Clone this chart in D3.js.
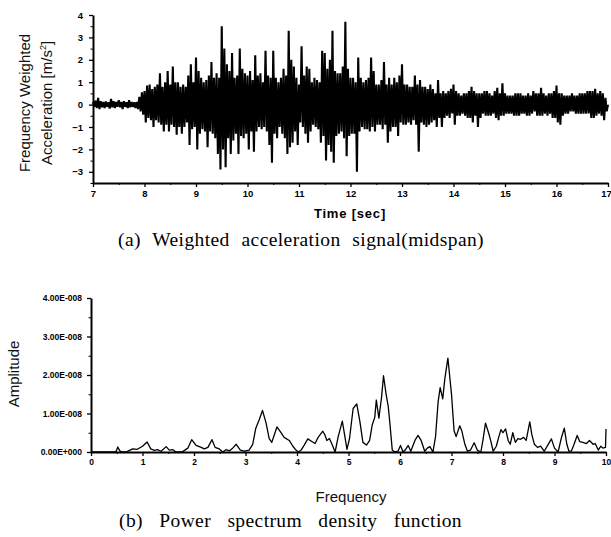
<!DOCTYPE html>
<html><head><meta charset="utf-8">
<script src="https://cdn.jsdelivr.net/npm/d3@7"></script>
<style>body{margin:0;background:#fff}svg{display:block}</style></head>
<body><svg id="c" width="611" height="537"></svg>
<script>
// ---- (a) weighted acceleration: per-bin peaks (bin = 0.05 s starting at 7 s)
const accStart = 7, accStep = 0.05;
const accUpper = [
 0.12,0.18,0.3,0.15,0.12,0.14,0.1,0.25,0.15,0.12, 0.2,0.12,0.15,0.1,0.2,0.12,0.1,0.12,0.35,0.55,
 0.6,0.85,0.9,0.7,0.8,0.9,1.4,0.8,1.0,1.5, 0.9,1.7,1.0,1.0,0.8,0.9,0.8,1.3,1.8,1.0,
 2.1,1.5,1.2,1.0,1.1,1.3,1.9,1.2,1.4,1.2, 3.5,2.5,1.8,1.5,2.3,1.2,1.3,2.5,1.6,1.4,
 1.3,1.5,1.1,2.2,1.3,1.4,1.0,2.4,1.3,1.2, 2.4,1.2,1.0,1.2,1.6,1.3,3.3,2.0,1.7,1.2,
 0.9,2.6,1.3,1.7,1.6,1.0,1.2,1.1,1.0,2.4, 2.3,1.6,2.0,3.3,1.5,1.4,1.4,1.7,3.7,1.6,
 1.2,1.2,1.0,2.1,1.2,1.0,1.1,1.2,2.1,1.5, 0.9,0.9,1.1,1.9,0.9,1.2,0.9,1.2,1.0,1.3,
 1.8,0.9,0.9,0.8,0.8,1.3,0.9,1.1,0.8,0.8, 0.7,0.9,0.7,0.5,1.1,0.5,0.6,0.5,0.6,0.7,
 0.9,0.6,0.5,0.4,0.5,0.5,0.6,0.8,0.6,0.5, 0.5,0.5,0.6,0.6,0.5,0.4,0.6,0.75,0.5,0.95,
 0.5,0.4,0.4,0.4,0.5,0.5,0.5,0.4,0.4,0.5, 0.4,0.6,0.5,0.5,0.75,0.5,0.4,0.5,0.5,0.6,
 0.85,0.5,0.5,0.4,0.4,0.4,0.5,0.4,0.4,0.5, 0.5,0.5,0.6,0.6,0.6,0.7,0.5,0.6,0.5,0.3
];
const accLower = [
 -0.1,-0.15,-0.2,-0.12,-0.15,-0.1,-0.18,-0.12,-0.15,-0.1, -0.12,-0.2,-0.1,-0.15,-0.12,-0.1,-0.15,-0.2,-0.3,-0.45,
 -0.8,-0.6,-0.7,-1.0,-0.7,-0.8,-0.9,-1.2,-0.9,-1.2, -0.9,-1.0,-1.35,-1.0,-1.3,-1.0,-0.8,-1.8,-1.1,-1.0,
 -2.0,-1.3,-1.1,-1.2,-1.9,-1.2,-1.3,-1.5,-2.2,-2.9, -2.0,-2.8,-1.5,-2.2,-1.6,-1.3,-2.2,-1.4,-1.5,-1.3,
 -2.0,-1.2,-2.1,-1.2,-1.0,-1.1,-1.0,-1.2,-1.8,-2.6, -1.3,-1.5,-1.0,-1.3,-1.5,-2.2,-1.9,-1.7,-1.2,-1.8,
 -0.8,-1.0,-1.3,-1.7,-1.2,-0.9,-1.0,-1.1,-1.7,-1.4, -2.5,-1.8,-2.1,-2.6,-1.4,-1.3,-1.2,-1.5,-2.3,-1.4,
 -1.3,-1.3,-3.0,-1.2,-1.0,-1.1,-1.1,-1.2,-1.0,-1.2, -0.9,-0.9,-1.1,-0.9,-1.7,-1.2,-1.0,-1.0,-1.4,-0.8,
 -0.9,-0.9,-0.8,-0.9,-0.7,-0.9,-2.1,-0.8,-0.9,-1.0, -0.9,-0.8,-0.7,-1.0,-0.6,-1.0,-0.6,-0.5,-0.6,-0.4,
 -0.9,-0.5,-0.5,-0.4,-0.5,-0.6,-0.6,-0.8,-0.5,-1.0, -0.6,-0.4,-0.5,-0.5,-0.5,-0.4,-0.6,-0.7,-0.5,-0.5,
 -0.4,-0.4,-0.4,-0.5,-0.5,-0.5,-0.4,-0.4,-0.5,-0.5, -0.4,-0.3,-0.5,-0.5,-0.5,-0.4,-0.5,-0.4,-0.6,-0.6,
 -0.8,-0.9,-0.5,-0.4,-0.4,-0.3,-0.3,-0.4,-0.4,-0.4, -0.4,-0.4,-0.4,-0.6,-0.6,-0.5,-0.4,-0.5,-0.7,-0.3
];
const timeTicks = [7,8,9,10,11,12,13,14,15,16,17];
const accTicks = [-3,-2,-1,0,1,2,3,4];

// ---- (b) power spectrum density (amplitude in units of 1e-8)
const psdFreq = [0,0.45,0.49,0.52,0.56,0.6,0.7,0.81,0.9,1.0,1.09,1.16,1.23,1.29,1.36,1.46,1.52,1.59,1.65,1.78,1.88,1.955,2.04,2.14,2.2,2.27,2.35,2.41,2.49,2.56,2.62,2.69,2.75,2.82,2.9,2.98,3.07,3.14,3.2,3.27,3.33,3.4,3.46,3.51,3.56,3.61,3.68,3.75,3.85,3.92,3.98,4.03,4.08,4.14,4.21,4.28,4.35,4.41,4.5,4.54,4.58,4.63,4.68,4.74,4.8,4.88,4.93,4.97,5.02,5.09,5.16,5.22,5.28,5.35,5.41,5.46,5.51,5.54,5.59,5.64,5.68,5.73,5.77,5.8,5.85,5.9,5.96,6.01,6.06,6.1,6.16,6.21,6.29,6.35,6.41,6.48,6.53,6.58,6.64,6.69,6.74,6.78,6.83,6.87,6.93,7.0,7.05,7.09,7.16,7.2,7.26,7.31,7.37,7.44,7.5,7.57,7.61,7.66,7.72,7.76,7.81,7.87,7.92,7.96,8.0,8.05,8.1,8.14,8.19,8.24,8.29,8.34,8.4,8.45,8.52,8.56,8.61,8.67,8.73,8.8,8.87,8.94,9.0,9.07,9.13,9.19,9.24,9.28,9.33,9.38,9.44,9.49,9.55,9.62,9.68,9.75,9.79,9.85,9.9,9.94,9.99,10.0];
const psdAmp = [0,0,0.02,0.13,0.03,0,0.01,0.08,0.07,0.15,0.26,0.08,0.04,0.06,0.02,0.14,0.05,0.06,0,0.01,0.1,0.32,0.17,0.12,0.08,0.12,0.32,0.12,0.08,0,0.06,0.03,0.1,0.2,0.05,0.02,0.05,0.2,0.62,0.85,1.08,0.75,0.35,0.25,0.45,0.65,0.52,0.38,0.3,0.15,0.05,0,0.05,0.18,0.34,0.28,0.22,0.38,0.54,0.45,0.3,0.35,0.2,0,0.4,0.8,0.4,0.07,0.35,1.13,1.25,0.8,0.25,0.18,0.3,0.7,0.9,1.35,0.88,1.4,1.98,1.5,1.2,0.8,0.05,0,0.02,0.17,0,0.05,0.17,0.02,0.3,0.43,0.3,0.02,0.1,0.14,0,0.4,1.3,1.67,1.38,1.9,2.44,1.5,0.55,0.4,0.68,0.55,0.2,0.02,0.05,0.24,0.05,0,0.3,0.75,0.5,0.3,0.02,0.15,0.4,0.58,0.5,0.6,0.3,0.2,0.5,0.25,0.35,0.33,0.38,0.3,0.78,0.45,0.2,0.12,0.15,0.02,0.18,0.34,0.1,0,0.35,0.62,0.2,0.02,0.03,0.2,0.43,0.27,0.25,0.22,0.3,0.2,0.22,0.05,0.15,0.1,0.12,0.6];
const freqTicks = [0,1,2,3,4,5,6,7,8,9,10];
const ampTicks = [0,1,2,3,4];
const ampTickLabels = ["0.00E+000","1.00E-008","2.00E-008","3.00E-008","4.00E-008"];

const svg = d3.select("#c");
const SANS = "'Liberation Sans', Arial, sans-serif";
const SERIF = "'Liberation Serif', 'Times New Roman', serif";

function styleAxis(g, fs, bold) {
  g.select(".domain").attr("stroke", "#000").attr("stroke-width", 2);
  g.selectAll(".tick line").attr("stroke", "#000").attr("stroke-width", 1.3);
  g.selectAll(".tick text").attr("font-family", SANS).attr("font-size", fs)
    .attr("font-weight", bold ? "bold" : "normal").attr("fill", "#000");
}
function halves(a, b, step) { const r = []; for (let v = a; v <= b + 1e-9; v += step) r.push(+v.toFixed(3)); return r; }
function spreadWords(sel, target) {
  const n = (sel.text().match(/ /g) || []).length;
  const w = sel.node().getComputedTextLength();
  if (n > 0 && w < target) sel.attr("word-spacing", (target - w) / n);
}

// ---------- top chart
const xA = d3.scaleLinear().domain([7, 17]).range([93, 608]);
const yA = d3.scaleLinear().domain([-3.5, 4]).range([183, 15]);

const accPts = [];
accUpper.forEach((u, i) => {
  const t = accStart + i * accStep;
  accPts.push([t, u]);
  accPts.push([t + accStep / 2, accLower[i]]);
});
accPts.push([17, 0]);

svg.append("path").datum(accPts)
  .attr("fill", "none").attr("stroke", "#000").attr("stroke-width", 2.1).attr("stroke-linejoin", "miter")
  .attr("stroke-miterlimit", 2)
  .attr("d", d3.line().x(d => xA(d[0])).y(d => yA(d[1])));

const gAx = svg.append("g").attr("transform", "translate(0,183)")
  .call(d3.axisBottom(xA).tickValues(timeTicks).tickSize(4).tickSizeOuter(0).tickPadding(3));
styleAxis(gAx, 9.5, true);
gAx.selectAll(".tick text").filter(d => d === 17).attr("dx", -2);
svg.append("g").attr("transform", "translate(0,183)")
  .call(d3.axisBottom(xA).tickValues(halves(7.5, 16.5, 1)).tickSize(2).tickFormat(""))
  .call(g => { g.select(".domain").remove(); g.selectAll("line").attr("stroke", "#000"); });

const gAy = svg.append("g").attr("transform", "translate(93,0)")
  .call(d3.axisLeft(yA).tickValues(accTicks).tickSize(4).tickSizeOuter(0).tickPadding(6));
styleAxis(gAy, 9.5, true);
svg.append("g").attr("transform", "translate(93,0)")
  .call(d3.axisLeft(yA).tickValues(halves(-3.5, 3.5, 1)).tickSize(2.5).tickFormat(""))
  .call(g => { g.select(".domain").remove(); g.selectAll("line").attr("stroke", "#000"); });

svg.append("text").attr("transform", "translate(30,103) rotate(-90)")
  .attr("text-anchor", "middle").attr("font-family", SANS).attr("font-size", 15).attr("fill", "#111")
  .text("Frequency Weighted");
const yl2 = svg.append("text").attr("transform", "translate(52,103) rotate(-90)")
  .attr("text-anchor", "middle").attr("font-family", SANS).attr("font-size", 15).attr("fill", "#111");
yl2.append("tspan").text("Acceleration [m/s");
yl2.append("tspan").attr("font-size", 9).attr("dy", -6).text("2");
yl2.append("tspan").attr("dy", 6).text("]");

svg.append("text").attr("x", 350).attr("y", 218).attr("text-anchor", "middle")
  .attr("font-family", SANS).attr("font-weight", "bold").attr("font-size", 13).attr("letter-spacing", 0.8)
  .text("Time [sec]");

const capA = svg.append("text").attr("x", 118).attr("y", 246)
  .attr("font-family", SERIF).attr("font-size", 19.5).attr("letter-spacing", 0.4)
  .text("(a) Weighted acceleration signal(midspan)");
spreadWords(capA, 366);

// ---------- bottom chart
const xB = d3.scaleLinear().domain([0, 10]).range([91, 606]);
const yB = d3.scaleLinear().domain([0, 4]).range([452, 298]);

svg.append("path").datum(psdFreq.map((f, i) => [f, psdAmp[i]]))
  .attr("fill", "none").attr("stroke", "#000").attr("stroke-width", 1.3).attr("stroke-linejoin", "round")
  .attr("d", d3.line().x(d => xB(d[0])).y(d => yB(d[1])));

const gBx = svg.append("g").attr("transform", "translate(0,452)")
  .call(d3.axisBottom(xB).tickValues(freqTicks).tickSize(4).tickSizeOuter(0).tickPadding(3));
styleAxis(gBx, 8.5, true);
svg.append("g").attr("transform", "translate(0,452)")
  .call(d3.axisBottom(xB).tickValues(halves(0.5, 9.5, 1)).tickSize(2).tickFormat(""))
  .call(g => { g.select(".domain").remove(); g.selectAll("line").attr("stroke", "#000"); });

const gBy = svg.append("g").attr("transform", "translate(91,0)")
  .call(d3.axisLeft(yB).tickValues(ampTicks).tickSize(4).tickSizeOuter(0).tickPadding(5)
    .tickFormat((d, i) => ampTickLabels[i]));
styleAxis(gBy, 8.5, true);
svg.append("g").attr("transform", "translate(91,0)")
  .call(d3.axisLeft(yB).tickValues(halves(0.5, 3.5, 1)).tickSize(2.5).tickFormat(""))
  .call(g => { g.select(".domain").remove(); g.selectAll("line").attr("stroke", "#000"); });

svg.append("text").attr("transform", "translate(19,374) rotate(-90)")
  .attr("text-anchor", "middle").attr("font-family", SANS).attr("font-size", 15).attr("fill", "#111")
  .text("Amplitude");

svg.append("text").attr("x", 351).attr("y", 502).attr("text-anchor", "middle")
  .attr("font-family", SANS).attr("font-size", 15).attr("fill", "#111")
  .text("Frequency");

const capB = svg.append("text").attr("x", 119).attr("y", 527)
  .attr("font-family", SERIF).attr("font-size", 19.5).attr("letter-spacing", 0.4)
  .text("(b) Power spectrum density function");
spreadWords(capB, 343);
</script></body></html>
